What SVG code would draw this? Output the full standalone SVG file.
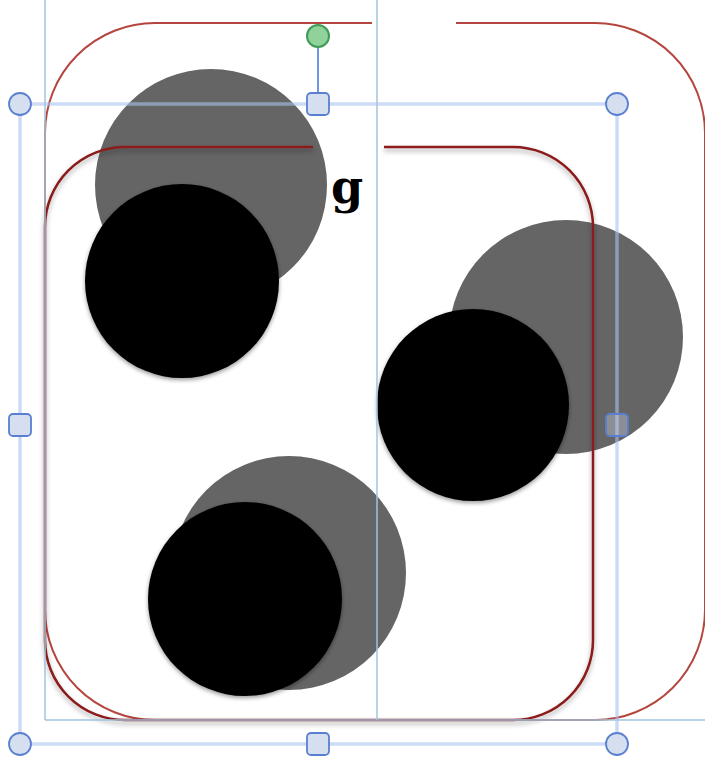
<svg xmlns="http://www.w3.org/2000/svg" width="705" height="762" viewBox="0 0 705 762">
<defs>
<filter id="sh" x="-10%" y="-10%" width="120%" height="120%">
<feDropShadow dx="0" dy="3" stdDeviation="2.5" flood-color="#000" flood-opacity="0.35"/>
</filter>
<filter id="bsh" x="-10%" y="-10%" width="120%" height="120%">
<feDropShadow dx="0" dy="2" stdDeviation="2" flood-color="#000" flood-opacity="0.4"/>
</filter>
</defs>
<style>
.guide{stroke:#9fc4dd;stroke-width:1.5;fill:none}
.sel{stroke:#a8c3ef;stroke-width:3.5;fill:none;opacity:0.6}
.hc{fill:#d5dff0;stroke:#5a7fd0;stroke-width:1.8}
.gray{fill:#656565}
.blk{fill:#000;filter:url(#bsh)}
.lbl{font-family:"DejaVu Serif","Liberation Serif",serif;font-weight:bold;font-size:46px;fill:#000}
</style>
<rect width="705" height="762" fill="#fff"/>
<g id="outer-frame">
<path d="M456 23 H595 A110 110 0 0 1 705 133 V610 A110 110 0 0 1 595 720 H155 A110 110 0 0 1 45 610 V133 A110 110 0 0 1 155 23 H372" fill="none" stroke="#b4463f" stroke-width="2"/>
</g>
<g id="gray-circles">
<circle class="gray" cx="211" cy="185" r="116"/>
<circle class="gray" cx="566" cy="337" r="117"/>
<circle class="gray" cx="289" cy="573" r="117"/>
</g>
<g id="inner-frame">
<path d="M384 147 H513 A80 80 0 0 1 593 227 V640 A80 80 0 0 1 513 720 H125 A80 80 0 0 1 45 640 V227 A80 80 0 0 1 125 147 H313" fill="none" stroke="#8a1a1a" stroke-width="2.5" filter="url(#sh)"/>
</g>
<g id="black-circles">
<circle class="blk" cx="182" cy="281" r="97"/>
<circle class="blk" cx="473" cy="405" r="96"/>
<circle class="blk" cx="245" cy="599" r="97"/>
</g>
<g id="label">
<text class="lbl" x="331" y="203">g</text>
</g>
<g id="guides">
<line class="guide" x1="45" y1="0" x2="45" y2="720"/>
<line class="guide" x1="45" y1="720" x2="705" y2="720"/>
<line class="guide" x1="377" y1="0" x2="377" y2="720"/>
</g>
<g id="selection">
<rect class="sel" x="20" y="104" width="597" height="640"/>
<line x1="318" y1="47" x2="318" y2="93" stroke="#6e96e2" stroke-width="2"/>
<circle cx="318" cy="36" r="11" fill="#8fd29a" stroke="#3f9a55" stroke-width="2"/>
<circle class="hc" cx="20" cy="104" r="11"/>
<circle class="hc" cx="617" cy="104" r="11"/>
<circle class="hc" cx="20" cy="744" r="11"/>
<circle class="hc" cx="617" cy="744" r="11"/>
<rect class="hc" x="307" y="93" width="22" height="22" rx="4"/>
<rect class="hc" x="307" y="733" width="22" height="22" rx="4"/>
<rect class="hc" x="9" y="414" width="22" height="22" rx="4"/>
<rect class="hc" x="606" y="414" width="22" height="22" rx="4" fill-opacity="0.35"/>
</g>
</svg>
